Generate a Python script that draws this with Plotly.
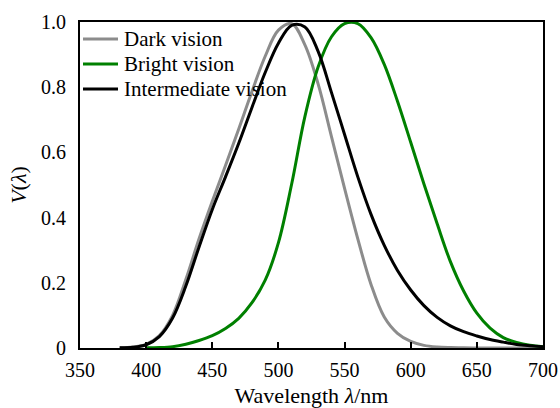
import plotly.graph_objects as go

# Wavelength grid (nm) and relative luminous efficiency for each vision regime
wl_dark = [380, 390, 400, 410, 420, 430, 440, 450, 460, 470, 480, 490, 500,
           510, 520, 530, 540, 550, 560, 570, 580, 590, 600, 610, 620, 630, 640,
           650, 660, 670, 680, 690, 700]
v_dark = [0.001, 0.003, 0.011, 0.038, 0.1, 0.21, 0.335, 0.45, 0.56, 0.672, 0.787,
          0.895, 0.975, 0.995, 0.93, 0.81, 0.65, 0.49, 0.335, 0.195, 0.095, 0.045,
          0.02, 0.008, 0.003, 0.0012, 0.0005, 0.0002, 0.0, 0.0, 0.0, 0.0, 0.0]

wl_bright = [400, 410, 420, 430, 440, 450, 460, 470, 480, 490, 500, 510, 520, 530,
             540, 550, 560, 570, 580, 590, 600, 610, 620, 630, 640, 650, 660,
             670, 680, 690, 700]
v_bright = [0.0004, 0.0012, 0.004, 0.0116, 0.023, 0.038, 0.06, 0.091, 0.139, 0.208,
            0.323, 0.503, 0.71, 0.862, 0.954, 0.995, 0.995, 0.952, 0.87, 0.757,
            0.631, 0.503, 0.381, 0.265, 0.175, 0.107, 0.061, 0.032, 0.017, 0.0082, 0.0041]

wl_mid = [380, 390, 400, 410, 420, 430, 440, 450, 460, 470, 480, 490, 500, 510,
          520, 530, 540, 550, 560, 570, 580, 590, 600, 610, 620, 630, 640,
          650, 660, 670, 680, 690, 700]
v_mid = [0.0005, 0.002, 0.01, 0.035, 0.092, 0.19, 0.31, 0.425, 0.525, 0.628, 0.738,
         0.845, 0.935, 0.99, 0.985, 0.91, 0.785, 0.655, 0.525, 0.41, 0.315, 0.238,
         0.178, 0.13, 0.094, 0.068, 0.05, 0.037, 0.026, 0.018, 0.011, 0.007, 0.004]

series_names = ["Dark vision", "Bright vision", "Intermediate vision"]
series_colors = ["#8c8c8c", "#008000", "#000000"]

x_ticks = [350, 400, 450, 500, 550, 600, 650, 700]
y_ticks = [0, 0.2, 0.4, 0.6, 0.8, 1.0]
y_tick_text = ["0", "0.2", "0.4", "0.6", "0.8", "1.0"]

FONT = "Liberation Serif"
W, H = 560, 408
M = dict(l=80, r=17, t=22, b=60)

fig = go.Figure()
for wl, v, name, color in zip([wl_dark, wl_bright, wl_mid], [v_dark, v_bright, v_mid],
                              series_names, series_colors):
    fig.add_trace(go.Scatter(x=wl, y=v, mode="lines", name=name, showlegend=False,
                             line=dict(color=color, width=3, shape="spline", smoothing=1.0)))

# Compact legend in the upper-left corner of the plotting area (paper coordinates)
pw = W - M["l"] - M["r"]
ph = H - M["t"] - M["b"]
def px_x(px):
    return (px - M["l"]) / pw
def px_y(py):
    return 1 - (py - M["t"]) / ph

shapes = []
annotations = []
for i, (name, color) in enumerate(zip(series_names, series_colors)):
    row_y = 39 + 25 * i
    shapes.append(dict(type="line", xref="paper", yref="paper",
                       x0=px_x(83), x1=px_x(118), y0=px_y(row_y), y1=px_y(row_y),
                       line=dict(color=color, width=3)))
    annotations.append(dict(xref="paper", yref="paper", x=px_x(122), y=px_y(row_y),
                            xanchor="left", yanchor="middle", showarrow=False,
                            text=name, font=dict(family=FONT, size=21, color="black")))

fig.update_layout(
    width=W, height=H,
    margin=M,
    paper_bgcolor="white", plot_bgcolor="white",
    font=dict(family=FONT, size=20, color="black"),
    showlegend=False,
    shapes=shapes,
    annotations=annotations,
)
fig.update_xaxes(
    range=[350, 700], tickvals=x_ticks, showgrid=False, zeroline=False,
    showline=True, linecolor="black", linewidth=2, mirror=True, automargin=False,
    ticks="inside", ticklen=6, tickwidth=2, tickcolor="black",
    tickfont=dict(family=FONT, size=20), ticklabelstandoff=3,
    title=dict(text="Wavelength <i>λ</i>/nm", font=dict(family=FONT, size=22), standoff=8),
)
fig.update_yaxes(
    range=[0, 1.0], tickvals=y_ticks, ticktext=y_tick_text, showgrid=False, zeroline=False,
    showline=True, linecolor="black", linewidth=2, mirror=True, automargin=False,
    ticks="", tickfont=dict(family=FONT, size=20), ticklabelstandoff=8,
    title=dict(text="<i>V</i>(<i>λ</i>)", font=dict(family=FONT, size=22), standoff=8),
)

fig.write_html("out.html")
